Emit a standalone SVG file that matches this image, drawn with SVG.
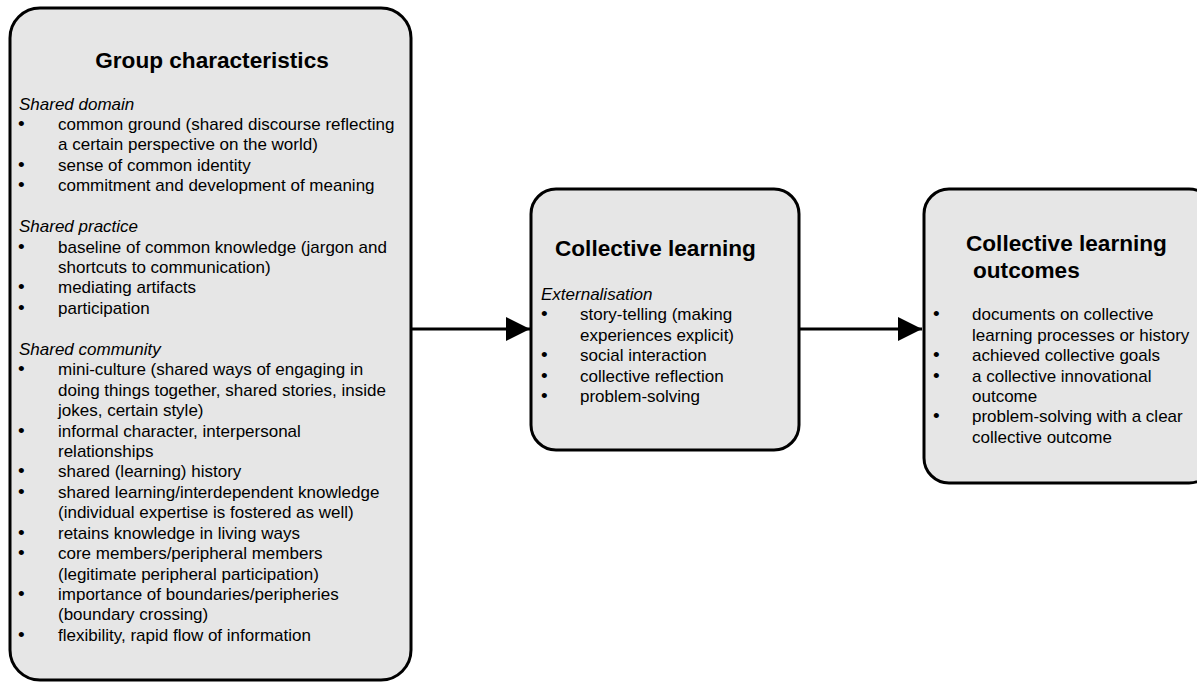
<svg xmlns="http://www.w3.org/2000/svg" width="1197" height="683" viewBox="0 0 1197 683">
<defs>
<style>
.box{fill:#e6e6e6;stroke:#000;stroke-width:3}
.t{font-family:"Liberation Sans",Arial,sans-serif;font-size:22.6px;font-weight:bold;fill:#000}
.b{font-family:"Liberation Sans",Arial,sans-serif;font-size:17px;fill:#000}
.i{font-style:italic}
.d{font-size:19px}
.c{stroke:#000;stroke-width:3;fill:none}
</style>
<marker id="ah" markerWidth="8" markerHeight="8" refX="8" refY="4" orient="auto" markerUnits="strokeWidth"><path d="M0,0 L8,4 L0,8 Z" fill="#000"/></marker>
</defs>
<rect width="1197" height="683" fill="#fff"/>
<g id="connectors">
<line class="c" x1="411" y1="329" x2="530" y2="329" marker-end="url(#ah)"/>
<line class="c" x1="800" y1="329" x2="922" y2="329" marker-end="url(#ah)"/>
</g>
<g id="group-characteristics">
<rect class="box" x="10" y="8" width="401" height="672" rx="30"/>
<text class="t" x="212" y="68" text-anchor="middle">Group characteristics</text>
<g class="b">
<text class="i" x="19" y="110">Shared domain</text>
<text class="d" x="18" y="130">•</text><text x="58" y="130">common ground (shared discourse reflecting</text>
<text x="58" y="150">a certain perspective on the world)</text>
<text class="d" x="18" y="171">•</text><text x="58" y="171">sense of common identity</text>
<text class="d" x="18" y="191">•</text><text x="58" y="191">commitment and development of meaning</text>
<text class="i" x="19" y="232">Shared practice</text>
<text class="d" x="18" y="253">•</text><text x="58" y="253">baseline of common knowledge (jargon and</text>
<text x="58" y="273">shortcuts to communication)</text>
<text class="d" x="18" y="293">•</text><text x="58" y="293">mediating artifacts</text>
<text class="d" x="18" y="314">•</text><text x="58" y="314">participation</text>
<text class="i" x="19" y="355">Shared community</text>
<text class="d" x="18" y="375">•</text><text x="58" y="375">mini-culture (shared ways of engaging in</text>
<text x="58" y="396">doing things together, shared stories, inside</text>
<text x="58" y="416">jokes, certain style)</text>
<text class="d" x="18" y="437">•</text><text x="58" y="437">informal character, interpersonal</text>
<text x="58" y="457">relationships</text>
<text class="d" x="18" y="477">•</text><text x="58" y="477">shared (learning) history</text>
<text class="d" x="18" y="498">•</text><text x="58" y="498">shared learning/interdependent knowledge</text>
<text x="58" y="518">(individual expertise is fostered as well)</text>
<text class="d" x="18" y="539">•</text><text x="58" y="539">retains knowledge in living ways</text>
<text class="d" x="18" y="559">•</text><text x="58" y="559">core members/peripheral members</text>
<text x="58" y="580">(legitimate peripheral participation)</text>
<text class="d" x="18" y="600">•</text><text x="58" y="600">importance of boundaries/peripheries</text>
<text x="58" y="620">(boundary crossing)</text>
<text class="d" x="18" y="641">•</text><text x="58" y="641">flexibility, rapid flow of information</text>
</g>
</g>
<g id="collective-learning">
<rect class="box" x="531" y="189" width="268" height="261" rx="25"/>
<text class="t" x="555" y="256">Collective learning</text>
<g class="b">
<text class="i" x="541" y="300">Externalisation</text>
<text class="d" x="541" y="320">•</text><text x="580" y="320">story-telling (making</text>
<text x="580" y="341">experiences explicit)</text>
<text class="d" x="541" y="361">•</text><text x="580" y="361">social interaction</text>
<text class="d" x="541" y="382">•</text><text x="580" y="382">collective reflection</text>
<text class="d" x="541" y="402">•</text><text x="580" y="402">problem-solving</text>
</g>
</g>
<g id="collective-learning-outcomes">
<rect class="box" x="924" y="189" width="290" height="294" rx="25"/>
<text class="t" x="966" y="251">Collective learning</text>
<text class="t" x="973" y="278">outcomes</text>
<g class="b">
<text class="d" x="933" y="320">•</text><text x="972" y="320">documents on collective</text>
<text x="972" y="341">learning processes or history</text>
<text class="d" x="933" y="361">•</text><text x="972" y="361">achieved collective goals</text>
<text class="d" x="933" y="382">•</text><text x="972" y="382">a collective innovational</text>
<text x="972" y="402">outcome</text>
<text class="d" x="933" y="422">•</text><text x="972" y="422">problem-solving with a clear</text>
<text x="972" y="443">collective outcome</text>
</g>
</g>
</svg>
